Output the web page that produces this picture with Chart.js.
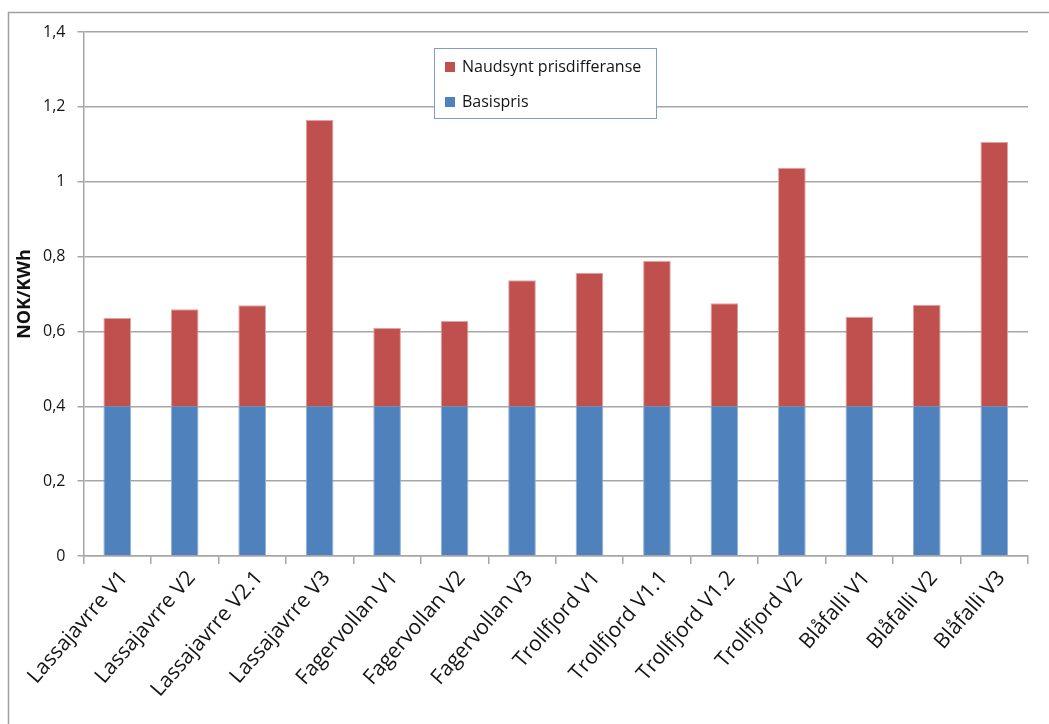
<!DOCTYPE html>
<html>
<head>
<meta charset="utf-8">
<script src="https://cdn.jsdelivr.net/npm/chart.js@4.4.1/dist/chart.umd.min.js"></script>
<style>
  html, body { margin: 0; padding: 0; background: #ffffff; }
  #wrap { width: 1049px; height: 724px; position: relative; }
</style>
</head>
<body>
<div id="wrap"><canvas id="c" width="1049" height="724"></canvas></div>
<script>
// Kraftverk-alternativ
const categories = [
  'Lassajavrre V1', 'Lassajavrre V2', 'Lassajavrre V2.1', 'Lassajavrre V3',
  'Fagervollan V1', 'Fagervollan V2', 'Fagervollan V3',
  'Trollfjord V1', 'Trollfjord V1.1', 'Trollfjord V1.2', 'Trollfjord V2',
  'Blåfalli V1', 'Blåfalli V2', 'Blåfalli V3'
];

// Basispris (NOK/KWh)
const basispris = [0.4, 0.4, 0.4, 0.4, 0.4, 0.4, 0.4, 0.4, 0.4, 0.4, 0.4, 0.4, 0.4, 0.4];

// Naudsynt prisdifferanse over basispris (NOK/KWh)
const prisdifferanse = [0.236, 0.259, 0.270, 0.765, 0.209, 0.228, 0.337, 0.357, 0.388, 0.275, 0.637, 0.239, 0.271, 0.706];

// Verdiakse
const yMin = 0;
const yMax = 1.4;
const yStep = 0.2;

const GRID = '#a6a6a6';
const TEXT = '#141414';
const FONT = "'Open Sans', 'DejaVu Sans', sans-serif";

const fmt = v => {
  const r = Math.round(v * 10) / 10;
  return String(r).replace('.', ',');
};

// White background and outer frame
const framePlugin = {
  id: 'frame',
  beforeDraw(chart) {
    const ctx = chart.ctx;
    ctx.save();
    ctx.fillStyle = '#ffffff';
    ctx.fillRect(0, 0, chart.width, chart.height);
    ctx.strokeStyle = '#a0a0a0';
    ctx.lineWidth = 1.5;
    ctx.beginPath();
    ctx.moveTo(8.5, chart.height + 2);
    ctx.lineTo(8.5, 12.5);
    ctx.lineTo(chart.width + 2, 12.5);
    ctx.stroke();
    ctx.restore();
  }
};

// Boxed legend drawn inside the plot area
const boxLegend = {
  id: 'boxLegend',
  afterDraw(chart, args, opts) {
    const ctx = chart.ctx;
    const ds = chart.data.datasets.slice().reverse();
    ctx.save();
    ctx.fillStyle = '#ffffff';
    ctx.fillRect(opts.x, opts.y, opts.w, opts.h);
    ctx.strokeStyle = opts.border;
    ctx.lineWidth = 1;
    ctx.strokeRect(opts.x + 0.5, opts.y + 0.5, opts.w, opts.h);
    ctx.font = opts.font;
    ctx.textBaseline = 'middle';
    ctx.textAlign = 'left';
    ds.forEach((d, i) => {
      const cy = opts.y + opts.first + i * opts.gap;
      ctx.fillStyle = d.backgroundColor;
      ctx.fillRect(opts.x + 11, cy - 5, 10, 10);
      ctx.fillStyle = TEXT;
      ctx.fillText(d.label, opts.x + 28, cy);
    });
    ctx.restore();
  }
};

new Chart(document.getElementById('c'), {
  type: 'bar',
  data: {
    labels: categories,
    datasets: [
      {
        label: 'Basispris',
        data: basispris,
        backgroundColor: '#4f81bd',
        borderColor: '#8fb0dc',
        borderWidth: { top: 0, bottom: 0, left: 1, right: 1 },
        borderSkipped: false,
        categoryPercentage: 1,
        barPercentage: 0.41
      },
      {
        label: 'Naudsynt prisdifferanse',
        data: prisdifferanse,
        backgroundColor: '#c0504d',
        borderColor: '#e0a3a1',
        borderWidth: { top: 1, bottom: 0, left: 1, right: 1 },
        borderSkipped: false,
        categoryPercentage: 1,
        barPercentage: 0.41
      }
    ]
  },
  options: {
    responsive: false,
    animation: false,
    devicePixelRatio: 1,
    layout: { padding: { left: 8, top: 32, right: 21, bottom: 0 } },
    plugins: {
      legend: { display: false },
      tooltip: { enabled: false },
      boxLegend: {
        x: 434, y: 48, w: 222, h: 70,
        first: 19, gap: 35,
        border: '#7f9ccb',
        font: "16px " + FONT
      }
    },
    scales: {
      x: {
        stacked: true,
        offset: true,
        grid: {
          offset: true,
          drawOnChartArea: false,
          drawTicks: true,
          tickLength: 8,
          color: GRID,
          lineWidth: 1.5
        },
        border: { display: true, color: GRID, width: 1.5 },
        ticks: {
          autoSkip: false,
          minRotation: 49,
          maxRotation: 49,
          padding: 2,
          labelOffset: 7,
          color: TEXT,
          font: { family: FONT, size: 21 }
        },
        afterFit(scale) { scale.height = 168; }
      },
      y: {
        stacked: true,
        min: yMin,
        max: yMax,
        ticks: {
          stepSize: yStep,
          padding: 12,
          color: TEXT,
          font: { family: FONT, size: 16 },
          callback: v => fmt(v)
        },
        grid: {
          color: GRID,
          lineWidth: 1.5,
          tickLength: 6,
          drawTicks: true
        },
        border: { display: true, color: GRID, width: 1.5 },
        title: {
          display: true,
          text: 'NOK/KWh',
          color: '#111111',
          font: { family: FONT, size: 18, weight: 'bold' },
          padding: { top: 6, bottom: 0 }
        },
        afterFit(scale) { scale.width = 75.5; }
      }
    }
  },
  plugins: [framePlugin, boxLegend]
});
</script>
</body>
</html>
